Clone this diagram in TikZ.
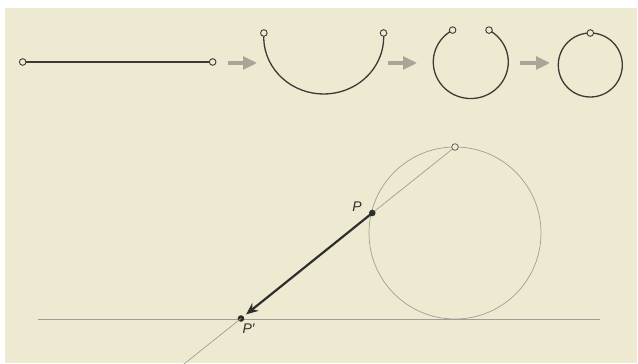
\documentclass[tikz,border=0pt]{standalone}
\usepackage{fontspec}
\setmainfont{Liberation Sans}
\usetikzlibrary{arrows.meta}
\definecolor{paper}{HTML}{EEEAD2}
\definecolor{ink}{HTML}{3A3A36}
\definecolor{thin}{HTML}{A09E94}
\definecolor{flow}{HTML}{A9A599}
\definecolor{dark}{HTML}{2E2E2C}
\tikzset{
  endpt/.style={circle, draw=ink, fill=paper, line width=0.9pt, inner sep=0pt, minimum size=6.6pt},
  dotpt/.style={circle, fill=dark, inner sep=0pt, minimum size=6.6pt},
  wire/.style={draw=ink, line width=1.3pt},
  guide/.style={draw=thin, line width=0.7pt},
  flowarrow/.style={draw=flow, line width=3.2pt, -{Triangle[length=14pt,width=13pt]}},
  lbl/.style={font=\fontsize{14}{16}\selectfont\itshape, text=dark, inner sep=0pt}
}
\begin{document}
\begin{tikzpicture}[x=1pt,y=1pt]
\useasboundingbox (0,0) rectangle (638,364);
\fill[white] (0,0) rectangle (638,364);
\fill[paper] (5,1) rectangle (637,356);
% stage 1: straight wire
\node[endpt] (a1) at (22.7,302) {};
\node[endpt] (a2) at (212.7,302) {};
\draw[wire] (a1) -- (a2);
\coordinate (f1s) at (228,301); \coordinate (f1e) at (257,301);
\draw[flowarrow] (f1s) -- (f1e);
% stage 2: half circle
\coordinate (b1) at (263.85,331);
\coordinate (b2) at (383.55,331);
\draw[wire] (b1) arc[start angle=176, end angle=364, x radius=60, y radius=57];
\node[endpt] at (b1) {};
\node[endpt] at (b2) {};
\coordinate (f2s) at (388,301); \coordinate (f2e) at (417,301);
\draw[flowarrow] (f2s) -- (f2e);
% stage 3: open circle
\coordinate (c1) at (452.6,333.9);
\coordinate (c2) at (489.0,333.9);
\draw[wire] (c1) arc[start angle=119, end angle=421, x radius=37.5, y radius=36.5];
\node[endpt] at (c1) {};
\node[endpt] at (c2) {};
\coordinate (f3s) at (520,301); \coordinate (f3e) at (550,301);
\draw[flowarrow] (f3s) -- (f3e);
% stage 4: closed circle
\draw[wire] (590.3,299) ellipse[x radius=32, y radius=32];
\node[endpt] (d1) at (590.3,331) {};
% lower figure
\coordinate (L1) at (38,45);
\coordinate (L2) at (600,45);
\draw[guide] (L1) -- (L2);
\draw[guide] (455,131) circle[radius=86];
\node[endpt, draw=ink!80, line width=0.8pt] (T) at (455,217) {};
\coordinate (E) at (184,0);
\node[dotpt] (P) at (372.3,151) {};
\node[dotpt] (Pp) at (241,45.5) {};
\draw[guide] (T) -- (P);
\draw[guide] (Pp.center) -- (E);
\draw[draw=dark, line width=2.2pt, -{Stealth[length=12pt,width=10pt]}, shorten >=3pt] (P.center) -- (Pp);
\node[lbl] (lP) at (357,157.5) {P};
\node[lbl] (lPp) at (248.5,35.5) {P′};
\end{tikzpicture}
\end{document}
